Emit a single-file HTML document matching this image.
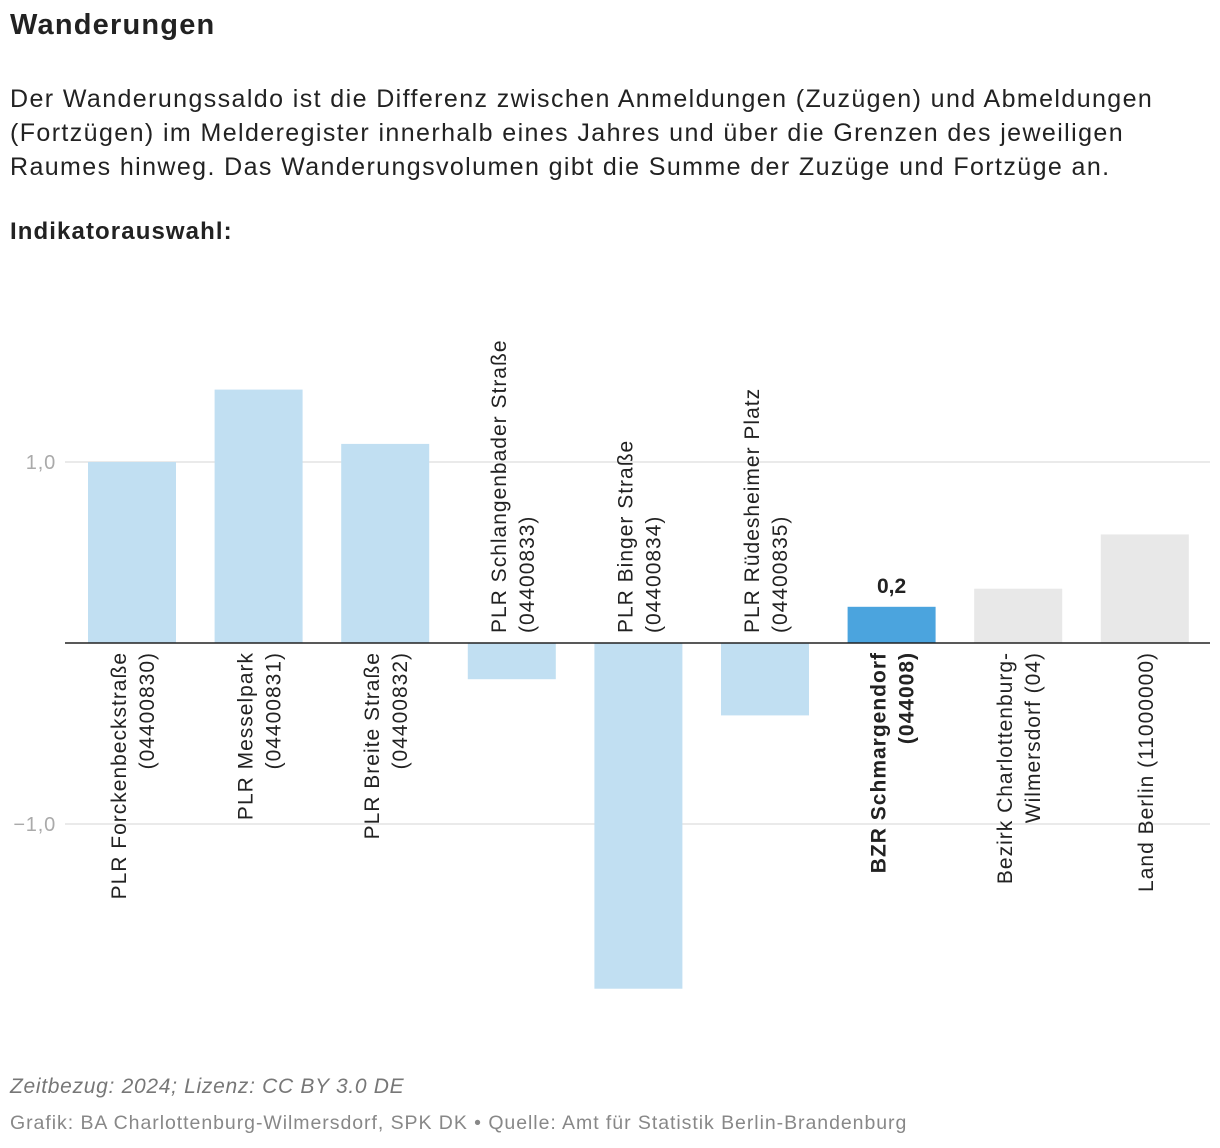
<!DOCTYPE html>
<html><head><meta charset="utf-8">
<style>
body{margin:0;width:1220px;height:1148px;background:#fff;font-family:"Liberation Sans",sans-serif;color:#222;position:relative;overflow:hidden}
.t{position:absolute;left:10px;margin:0;white-space:nowrap}
</style></head><body>
<h1 class="t" style="top:9px;font-size:29px;font-weight:bold;color:#222;letter-spacing:1.2px">Wanderungen</h1>
<p class="t" style="top:82px;font-size:25px;line-height:34px;letter-spacing:1.4px">Der Wanderungssaldo ist die Differenz zwischen Anmeldungen (Zuzügen) und Abmeldungen<br>(Fortzügen) im Melderegister innerhalb eines Jahres und über die Grenzen des jeweiligen<br>Raumes hinweg. Das Wanderungsvolumen gibt die Summe der Zuzüge und Fortzüge an.</p>
<p class="t" style="top:218px;font-size:24px;font-weight:bold;letter-spacing:1.1px">Indikatorauswahl:</p>
<svg id="chart" width="1220" height="1148" style="position:absolute;left:0;top:0"></svg>
<p class="t" style="top:1075px;font-size:21px;font-style:italic;color:#777;letter-spacing:0.7px">Zeitbezug: 2024; Lizenz: CC BY 3.0 DE</p>
<p class="t" style="top:1112px;font-size:19.5px;color:#888;letter-spacing:0.95px">Grafik: BA Charlottenburg-Wilmersdorf, SPK DK • Quelle: Amt für Statistik Berlin-Brandenburg</p>
<script>
const categories=[["PLR Forckenbeckstraße","(04400830)"],["PLR Messelpark","(04400831)"],["PLR Breite Straße","(04400832)"],["PLR Schlangenbader Straße","(04400833)"],["PLR Binger Straße","(04400834)"],["PLR Rüdesheimer Platz","(04400835)"],["BZR Schmargendorf","(044008)"],["Bezirk Charlottenburg-","Wilmersdorf (04)"],["Land Berlin (11000000)"]];
const values=[1.0,1.4,1.1,-0.2,-1.91,-0.4,0.2,0.3,0.6];
const kinds=["plr","plr","plr","plr","plr","plr","bzr","ref","ref"];
const ticks=[1,-1];
const tickLabels=["1,0","−1,0"];
const svg=document.getElementById('chart');const NS='http://www.w3.org/2000/svg';
const y=v=>643-v*181;const x0=88,step=126.6,bw=88;
const xs=i=>x0+i*step;
function mk(t,a){const e=document.createElementNS(NS,t);for(const k in a)e.setAttribute(k,a[k]);svg.appendChild(e);return e;}
ticks.forEach((t,i)=>{
const g=mk('line',{x1:65,x2:1210,y1:y(t),y2:y(t),stroke:'#e3e3e3','stroke-width':1.5});


const l=mk('text',{x:56,y:y(t)+7,'text-anchor':'end','font-size':20,fill:'#aaa','letter-spacing':'0.8px'});l.textContent=tickLabels[i];


});
const col={plr:'#c1dff2',bzr:'#4ba4de',ref:'#e8e8e8'};
values.forEach((v,i)=>{
const r=mk('rect',{x:xs(i),width:bw,y:Math.min(y(v),y(0)),height:Math.abs(y(v)-y(0)),fill:col[kinds[i]]});


const cx=xs(i)+bw/2;const lines=categories[i];const bold=kinds[i]==='bzr';
lines.forEach((s,j)=>{
const bx=lines.length===1?cx+8:cx-6+j*28;
const ty=v>=0?652:633;
const t=mk('text',{x:bx,y:ty,transform:`rotate(-90 ${bx} ${ty})`,'text-anchor':v>=0?'end':'start','font-size':21,'letter-spacing':'1px',fill:'#222','font-weight':bold?'bold':'normal'});
t.textContent=s;


});
if(bold){const t=mk('text',{x:cx,y:y(v)-14,'text-anchor':'middle','font-size':21,'font-weight':'bold',fill:'#222'});t.textContent=String(v).replace('.',',');

}
});
const ax=mk('line',{x1:65,x2:1210,y1:y(0),y2:y(0),stroke:'#222','stroke-width':1.5});


</script>
</body></html>
